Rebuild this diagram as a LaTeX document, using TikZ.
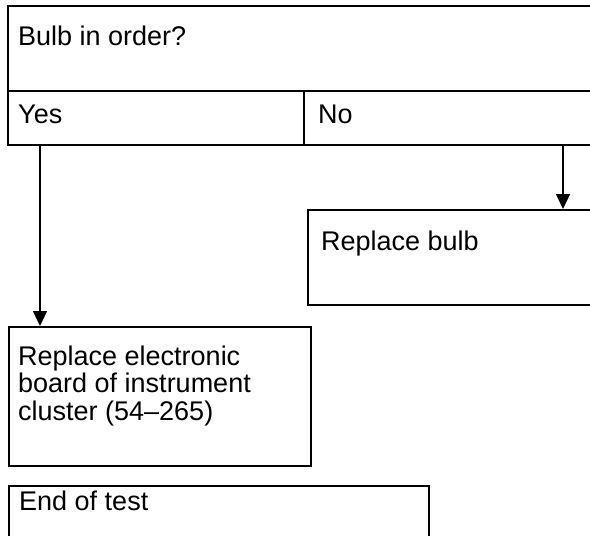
\documentclass[tikz,border=0pt]{standalone}
\usepackage{fontspec}
\setmainfont{Liberation Sans}
\usetikzlibrary{arrows.meta}
\tikzset{
  cell/.style={draw=black, line width=1.6pt, rectangle, inner sep=0pt, anchor=north west},
  txt/.style={inner sep=0pt, anchor=base west, align=left, font=\fontsize{27}{27.5}\selectfont},
  arr/.style={line width=1.4pt, -{Triangle[width=14pt,length=15pt]}}
}
\begin{document}
\begin{tikzpicture}[x=1pt,y=-1pt]
\useasboundingbox (0,0) rectangle (590,536);
% boxes
\node[cell, minimum width=600pt, minimum height=85pt] (q) at (7,5) {};
\node[cell, minimum width=296pt, minimum height=54pt] (yes) at (7,90) {};
\node[cell, minimum width=300pt, minimum height=54pt] (no) at (303,90) {};
\node[cell, minimum width=300pt, minimum height=95pt] (bulb) at (307,209) {};
\node[cell, minimum width=302pt, minimum height=139pt] (board) at (8,326) {};
\node[cell, minimum width=420pt, minimum height=80pt] (endt) at (8,485) {};
% texts
\node[txt] (tq) at (18,45) {Bulb in order?};
\node[txt] (tyes) at (18,123) {Yes};
\node[txt] (tno) at (318,123) {No};
\node[txt] (tbulb) at (321,250) {Replace bulb};
\node[txt] (tboard) at (18,420) {Replace electronic\\board of instrument\\cluster (54--265)};
\node[txt] (tend) at (19,510) {End of test};
% connectors
\draw[arr] ([xshift=33pt]yes.south west) -- ([xshift=32pt]board.north west);
\draw[arr] ([xshift=260pt]no.south west) -- ([xshift=256pt]bulb.north west);
\end{tikzpicture}
\end{document}
